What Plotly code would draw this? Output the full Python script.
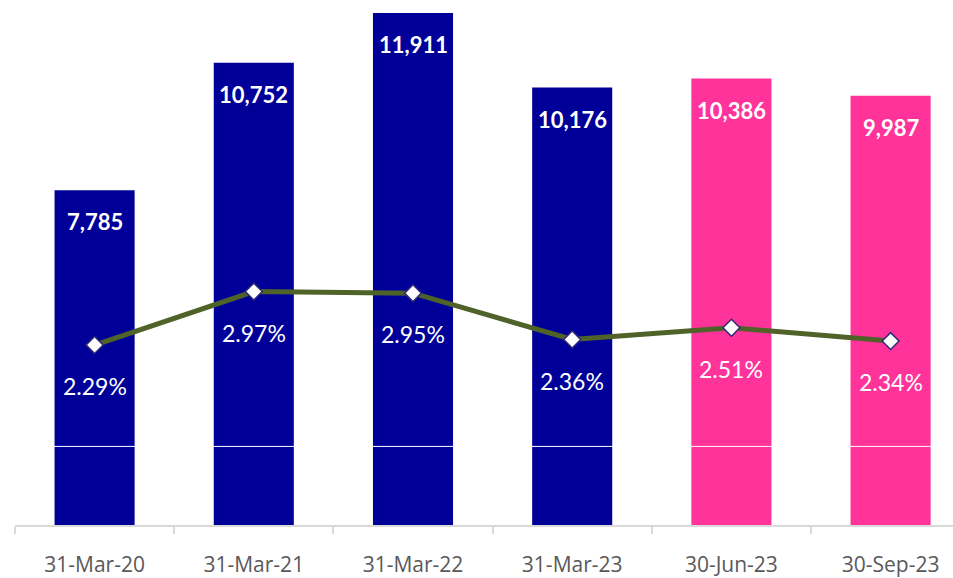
import plotly.graph_objects as go

# Period-end dates
periods = ["31-Mar-20", "31-Mar-21", "31-Mar-22", "31-Mar-23", "30-Jun-23", "30-Sep-23"]
# Bar values
amounts = [7785, 10752, 11911, 10176, 10386, 9987]
# Ratio (%) shown by the line
ratios = [2.29, 2.97, 2.95, 2.36, 2.51, 2.34]

# Styling
NAVY = "#000099"
PINK = "#FF3399"
bar_colors = [NAVY, NAVY, NAVY, NAVY, PINK, PINK]
LINE_GREEN = "#4F6228"

fig = go.Figure()

fig.add_trace(go.Bar(
    x=periods, y=amounts,
    marker=dict(color=bar_colors, line=dict(width=0)),
    yaxis="y", hoverinfo="skip", showlegend=False,
))

fig.add_trace(go.Scatter(
    x=periods, y=ratios, yaxis="y2",
    mode="lines+markers",
    line=dict(color=LINE_GREEN, width=5),
    marker=dict(symbol="diamond", size=13, color="white",
                line=dict(color="#2E2A78", width=1.5)),
    hoverinfo="skip", showlegend=False,
))

annotations = []
for p, v in zip(periods, amounts):
    annotations.append(dict(
        x=p, y=v, xref="x", yref="y", text=f"{v:,}", showarrow=False,
        yanchor="top", yshift=-16,
        font=dict(family="Lato", size=22, color="white", weight="bold"),
    ))
for p, r in zip(periods, ratios):
    annotations.append(dict(
        x=p, y=r, xref="x", yref="y2", text=f"{r:.2f}%", showarrow=False,
        yanchor="middle", yshift=-41,
        font=dict(family="Lato", size=23, color="white"),
    ))

fig.update_layout(
    width=953, height=578,
    margin=dict(l=15, r=0, t=0, b=53),
    paper_bgcolor="white", plot_bgcolor="white",
    bargap=0.497,
    xaxis=dict(
        type="category", range=[-0.5, 5.392],
        showline=True, linecolor="#D9D9D9", linewidth=1.5,
        ticks="outside", tickson="boundaries", ticklen=7,
        tickcolor="#D9D9D9", tickwidth=1.5,
        ticklabelstandoff=20,
        tickfont=dict(family="Open Sans", size=21, color="#595959"),
        showgrid=False, zeroline=False,
    ),
    yaxis=dict(range=[0, 12214], visible=False, showgrid=False),
    yaxis2=dict(range=[0, 6.68], overlaying="y", visible=False, showgrid=False),
    annotations=annotations,
    shapes=[dict(type="line", xref="paper", x0=0, x1=1, yref="y2", y0=1, y1=1,
                 line=dict(color="white", width=1), layer="above")],
)

fig.write_html("out.html")
